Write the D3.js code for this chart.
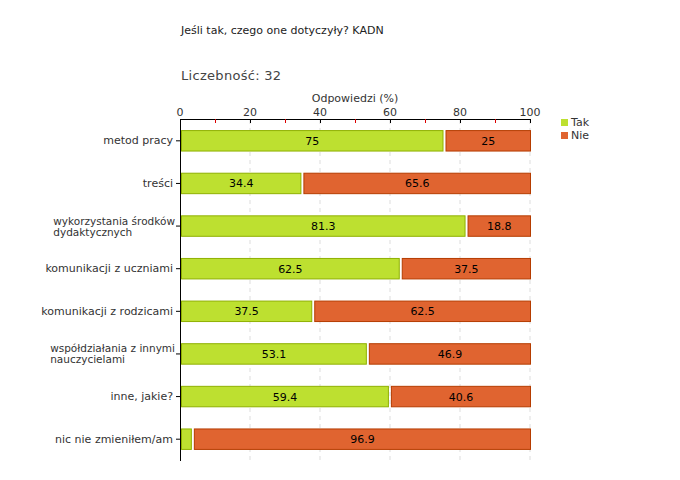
<!DOCTYPE html>
<html><head><meta charset="utf-8">
<script src="https://cdn.jsdelivr.net/npm/d3@7"></script>
<style>body{margin:0;background:#fff;} svg{display:block;} text{font-family:"DejaVu Sans",Verdana,sans-serif;}</style>
</head><body><svg id="c" width="680" height="480"></svg>
<script>
const categories = [["metod pracy"],["treści"],["wykorzystania środków","dydaktycznych"],["komunikacji z uczniami"],["komunikacji z rodzicami"],["współdziałania z innymi","nauczycielami"],["inne, jakie?"],["nic nie zmieniłem/am"]];
const tak = [75, 34.4, 81.3, 62.5, 37.5, 53.1, 59.4, 3.1];
const nie = [25, 65.6, 18.8, 37.5, 62.5, 46.9, 40.6, 96.9];
const takLabels = ["75","34.4","81.3","62.5","37.5","53.1","59.4",""];
const nieLabels = ["25","65.6","18.8","37.5","62.5","46.9","40.6","96.9"];
const seriesNames = ["Tak","Nie"];
const majorTicks = [0,20,40,60,80,100];
const minorTicks = [10,30,50,70,90];

const svg = d3.select("#c");
const x = d3.scaleLinear().domain([0,100]).range([180,530]);
const y = d3.scaleBand().domain(d3.range(categories.length)).range([119,460]).paddingInner(0.52).paddingOuter(0.26);

svg.append("text").attr("x",181).attr("y",34).attr("font-size",11).attr("fill","#222").text("Jeśli tak, czego one dotyczyły? KADN");
svg.append("text").attr("x",181).attr("y",80).attr("font-size",13).attr("fill","#444").attr("letter-spacing",0.3).text("Liczebność: 32");
svg.append("text").attr("x",355).attr("y",102).attr("text-anchor","middle").attr("font-size",11).attr("fill","#333").text("Odpowiedzi (%)");

// gridlines
svg.append("g").selectAll("line").data(majorTicks.slice(1)).join("line")
  .attr("x1",d=>x(d)).attr("x2",d=>x(d)).attr("y1",120).attr("y2",460)
  .attr("stroke","#ddd").attr("stroke-dasharray","4,4");

// top axis
const ax = svg.append("g");
ax.append("line").attr("x1",x(0)).attr("x2",x(100)).attr("y1",119.5).attr("y2",119.5).attr("stroke","#000");
ax.selectAll(".mj").data(majorTicks).join("line").attr("x1",d=>x(d)+0.5).attr("x2",d=>x(d)+0.5).attr("y1",119).attr("y2",123).attr("stroke","#000");
ax.selectAll(".mn").data(minorTicks).join("line").attr("x1",d=>x(d)+0.5).attr("x2",d=>x(d)+0.5).attr("y1",119).attr("y2",123).attr("stroke","#d00");
ax.selectAll("text").data(majorTicks).join("text").attr("x",d=>x(d)).attr("y",116).attr("text-anchor","middle").attr("font-size",11).attr("fill","#333").text(d=>d);

// y axis
svg.append("line").attr("x1",180.5).attr("x2",180.5).attr("y1",119).attr("y2",461).attr("stroke","#000");
const rows = svg.append("g").selectAll("g").data(categories).join("g");
rows.append("line").attr("x1",176).attr("x2",180).attr("y1",(d,i)=>y(i)+y.bandwidth()/2+0.5).attr("y2",(d,i)=>y(i)+y.bandwidth()/2+0.5).attr("stroke","#000");
rows.each(function(d,i){
  const g = d3.select(this);
  const cy = y(i)+y.bandwidth()/2;
  if (d.length === 1) {
    g.append("text").attr("x",173).attr("y",cy+4).attr("text-anchor","end").attr("font-size",11).attr("fill","#333").text(d[0]);
  } else {
    const t = g.append("text").attr("font-size",10.5).attr("fill","#333");
    const sp = t.selectAll("tspan").data(d).join("tspan").attr("dy",(s,j)=>j?11:0).text(s=>s);
    const w = t.node().getComputedTextLength ? d3.max(sp.nodes(), n=>n.getComputedTextLength()) : 120;
    const x0 = 175 - w;
    sp.attr("x",x0);
    t.attr("y",cy-1);
  }
});

// bars
const bars = svg.append("g");
bars.selectAll(".t").data(tak).join("rect")
  .attr("x",x(0)+1.5).attr("y",(d,i)=>y(i)+0.5).attr("width",d=>x(d)-x(0)-1).attr("height",y.bandwidth())
  .attr("fill","#bde030").attr("stroke","#8fb000");
bars.selectAll(".n").data(nie).join("rect")
  .attr("x",(d,i)=>x(tak[i])+3.5).attr("y",(d,i)=>y(i)+0.5).attr("width",(d,i)=>x(100)-x(tak[i])-3).attr("height",y.bandwidth())
  .attr("fill","#e06430").attr("stroke","#b53c00");
bars.selectAll(".tl").data(takLabels).join("text")
  .attr("x",(d,i)=>(x(0)+x(tak[i]))/2+1).attr("y",(d,i)=>y(i)+y.bandwidth()/2+4.5)
  .attr("text-anchor","middle").attr("font-size",11).attr("fill","#000").text(d=>d);
bars.selectAll(".nl").data(nieLabels).join("text")
  .attr("x",(d,i)=>(x(tak[i])+x(100))/2+2).attr("y",(d,i)=>y(i)+y.bandwidth()/2+4.5)
  .attr("text-anchor","middle").attr("font-size",11).attr("fill","#000").text(d=>d);

// legend
const cols = ["#bde030","#e06430"];
const lg = svg.append("g").selectAll("g").data(seriesNames).join("g").attr("transform",(d,i)=>`translate(561,${119+i*13})`);
lg.append("rect").attr("x",0).attr("y",-0).attr("width",7).attr("height",7).attr("fill",(d,i)=>cols[i]);
lg.append("text").attr("x",10).attr("y",7).attr("font-size",11).attr("fill","#333").text(d=>d);
</script></body></html>
